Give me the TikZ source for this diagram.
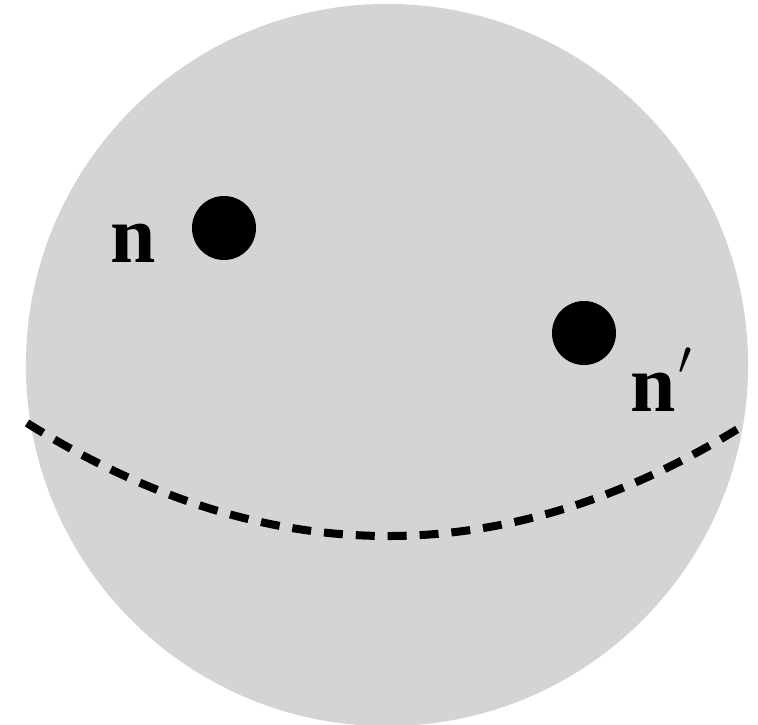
\documentclass[tikz,border=0pt]{standalone}
\usepackage{fix-cm}
\usepackage{fontspec}
\setmainfont{Liberation Serif}
\usepackage{xcolor}
\definecolor{spheregray}{RGB}{212,212,212}
\newcommand{\bprime}{\kern2pt\raisebox{26pt}{\fontsize{34}{34}\selectfont$\prime$}}

\begin{document}
\begin{tikzpicture}[x=0.025cm, y=-0.025cm,
  every node/.style={font=\fontsize{58}{60}\selectfont\bfseries},
  blob/.style={circle,fill=black,inner sep=0pt,minimum size=1.6cm},
  lbl/.style={inner sep=0pt}]
\useasboundingbox (0,0) rectangle (758,725);
\node[circle,fill=spheregray,inner sep=0pt,minimum size=18.05cm] (sphere) at (387,365) {};
\node[blob] (pn) at (224,228) {};
\node[blob] (pm) at (584,333) {};
\node[lbl,anchor=base] (ln) at (133,262) {n};
\node[lbl,anchor=base west] (lm) at (630,411) {n\bprime};
% great circle seen from the side
\coordinate (eqL) at (27,423);
\coordinate (eqR) at (741,427);
\draw[line width=5.7pt,dash pattern=on 13.5pt off 9.2pt]
  (eqL) .. controls (265,572) and (503,574) .. (eqR);
\end{tikzpicture}
\end{document}
